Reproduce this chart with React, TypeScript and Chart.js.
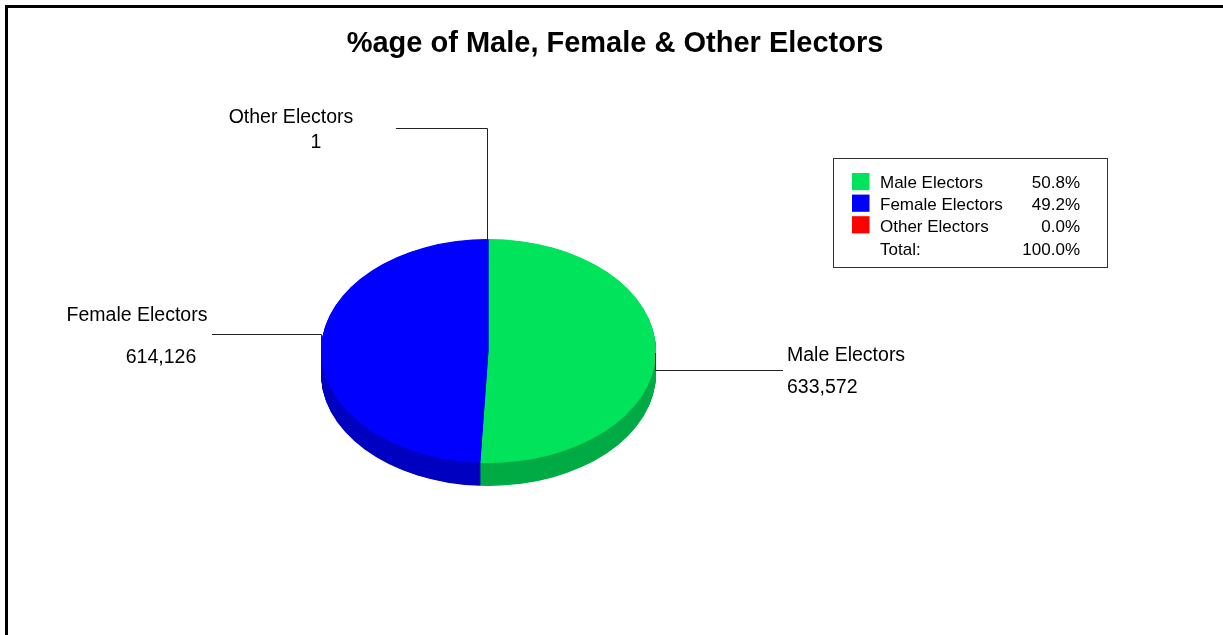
import React, { useEffect, useRef } from "react";
import { Chart, registerables } from "chart.js";

Chart.register(...registerables);

const categories = ["Male Electors", "Female Electors", "Other Electors"];
const electorValues = [633572, 614126, 1];
const sliceColors = ["#00e35a", "#0000ff", "#ff0000"];
const sideColors = ["#00ab45", "#0000c0", "#c00000"];
const chartTitle = "%age of Male, Female & Other Electors";
const totalLabel = "Total:";

const W = 1223;
const H = 635;
const TILT = 112 / 167.5;
const DEPTH = 23;
const FONT = "'Liberation Sans', Arial, sans-serif";

const fmt = (v: number) => v.toLocaleString("en-US");

const pie3d = {
  id: "pie3d",
  beforeDatasetsDraw(chart: any) {
    const ctx = chart.ctx;
    const arcs = chart.getDatasetMeta(0).data;
    const cy = arcs[0].y;
    ctx.save();
    ctx.translate(0, cy);
    ctx.scale(1, TILT);
    ctx.translate(0, -cy);
    for (let d = DEPTH; d > 0; d -= 0.5) {
      const off = d / TILT;
      arcs.forEach((a: any, i: number) => {
        const { x, y, startAngle, endAngle, outerRadius } = a.getProps(
          ["x", "y", "startAngle", "endAngle", "outerRadius"],
          true
        );
        if (endAngle - startAngle <= 0) return;
        ctx.beginPath();
        ctx.moveTo(x, y + off);
        ctx.arc(x, y + off, outerRadius, startAngle, endAngle);
        ctx.closePath();
        ctx.fillStyle = sideColors[i];
        ctx.fill();
      });
    }
  },
  afterDatasetsDraw(chart: any) {
    chart.ctx.restore();
  },
};

const annotations = {
  id: "annotations",
  afterDraw(chart: any) {
    const ctx = chart.ctx;
    const arc = chart.getDatasetMeta(0).data[0];
    const cx = arc.x;
    const cy = arc.y;
    const rx = arc.outerRadius;
    const ry = rx * TILT;
    ctx.save();

    // frame (top and left edges)
    ctx.fillStyle = "#000";
    ctx.fillRect(5, 5, W - 5, 3);
    ctx.fillRect(5, 5, 3, H - 5);

    // title
    ctx.font = `bold 29px ${FONT}`;
    ctx.textAlign = "center";
    ctx.textBaseline = "alphabetic";
    ctx.fillStyle = "#000";
    ctx.fillText(chartTitle, 615, 52);

    // leader lines
    ctx.strokeStyle = "#222";
    ctx.lineWidth = 1;
    const poly = (pts: number[][]) => {
      ctx.beginPath();
      pts.forEach(([px, py], i) => (i ? ctx.lineTo(px, py) : ctx.moveTo(px, py)));
      ctx.stroke();
    };
    const topX = Math.floor(cx) - 0.5;
    const topY = cy - ry;
    poly([[396, 128.5], [topX, 128.5], [topX, topY]]);
    const leftX = Math.round(cx - rx) + 0.5;
    poly([[leftX, cy - 3], [leftX, 334.5], [212, 334.5]]);
    const rightX = Math.round(cx + rx) - 0.5;
    poly([[rightX, cy + 2], [rightX, 370.5], [783, 370.5]]);

    // slice labels
    ctx.font = `19.5px ${FONT}`;
    ctx.fillStyle = "#000";
    ctx.textAlign = "center";
    ctx.fillText(categories[2], 291, 123);
    ctx.fillText(fmt(electorValues[2]), 316, 148);
    ctx.fillText(categories[1], 137, 321);
    ctx.fillText(fmt(electorValues[1]), 161, 363);
    ctx.textAlign = "left";
    ctx.fillText(categories[0], 787, 361);
    ctx.fillText(fmt(electorValues[0]), 787, 393);

    // legend box
    const total = electorValues.reduce((s, v) => s + v, 0);
    ctx.strokeStyle = "#333";
    ctx.strokeRect(833.5, 158.5, 274, 109);
    ctx.font = `17px ${FONT}`;
    categories.forEach((c, i) => {
      const y0 = 173 + i * 21.6;
      ctx.fillStyle = sliceColors[i];
      ctx.fillRect(852, y0, 17.5, 17.2);
      ctx.fillStyle = "#000";
      ctx.textAlign = "left";
      ctx.fillText(c, 880, y0 + 15.3);
      ctx.textAlign = "right";
      ctx.fillText(((electorValues[i] / total) * 100).toFixed(1) + "%", 1080, y0 + 15.3);
    });
    ctx.textAlign = "left";
    ctx.fillText(totalLabel, 880, 255);
    ctx.textAlign = "right";
    ctx.fillText("100.0%", 1080, 255);

    ctx.restore();
  },
};

export default function App() {
  const canvasRef = useRef<HTMLCanvasElement | null>(null);
  useEffect(() => {
    if (!canvasRef.current) return;
    const chart = new Chart(canvasRef.current, {
      type: "pie",
      data: {
        labels: categories,
        datasets: [
          {
            data: electorValues,
            backgroundColor: sliceColors,
            borderWidth: 0,
            clip: false,
          } as any,
        ],
      },
      options: {
        animation: false,
        responsive: false,
        devicePixelRatio: 1,
        layout: { padding: { left: 321, right: W - 656, top: 183.5, bottom: H - 518.5 } },
        plugins: {
          legend: { display: false },
          title: { display: false },
          tooltip: { enabled: false },
        },
        events: [],
      },
      plugins: [pie3d, annotations],
    });
    return () => chart.destroy();
  }, []);
  return (
    <div style={{ position: "absolute", left: 0, top: 0, width: W, height: H, background: "#fff" }}>
      <canvas ref={canvasRef} width={W} height={H} style={{ display: "block" }} />
    </div>
  );
}
